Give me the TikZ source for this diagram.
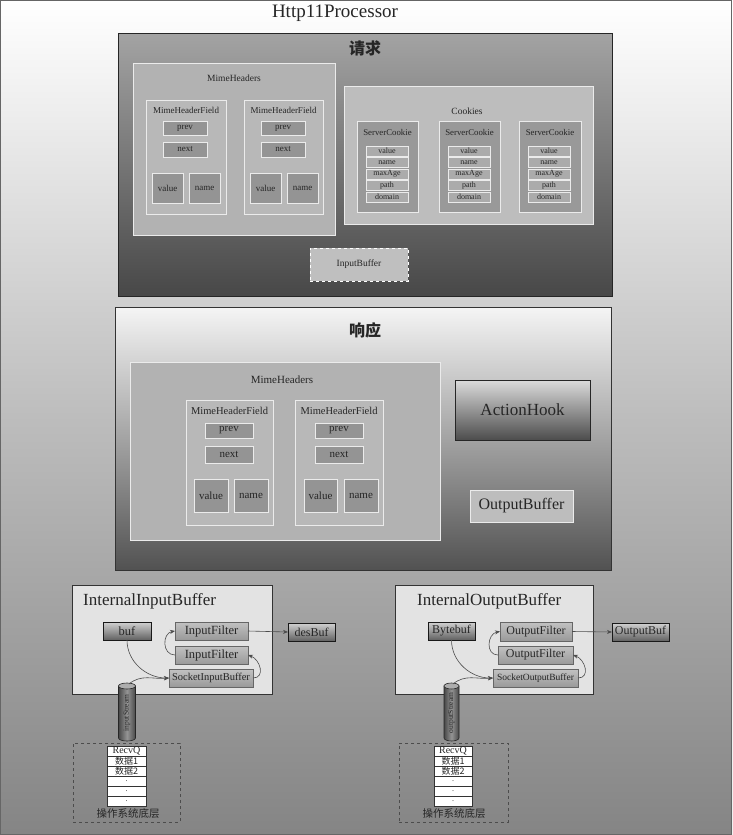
\documentclass[tikz,border=0pt]{standalone}
\usepackage{fontspec}
\setmainfont{Liberation Serif}
\newfontfamily\cjk{Noto Sans CJK SC}
\usetikzlibrary{shapes.geometric,arrows.meta}
\newcommand\fsz[1]{\fontsize{#1}{#1}\selectfont}
\newcommand\bx[7]{\node[#1,anchor=north west,minimum width={(#5-#3)*1pt},minimum height={(#6-#4)*1pt}] (#2) at (#3,#4) {#7};}
\begin{document}
\begin{tikzpicture}[x=1pt,y=-1pt,
  box/.style={rectangle,inner sep=0pt,outer sep=0pt,text=black!85},
  wbox/.style={box,draw=white!92!black,line width=0.9pt},
  reqouter/.style={box,draw=black!85,line width=0.8pt,top color=black!36,bottom color=black!72},
  respouter/.style={box,draw=black!80,line width=0.8pt,top color=black!4,bottom color=black!68},
  cont/.style={wbox,fill=black!30},
  mhf/.style={wbox,fill=black!28},
  fld/.style={wbox,fill=black!42},
  cookiebox/.style={wbox,fill=black!26},
  sc/.style={wbox,fill=black!40},
  cf/.style={wbox,line width=0.7pt,fill=black!33,font=\fsz{8}},
  ibufst/.style={box,draw=white,dashed,line width=0.9pt,fill=black!25},
  ahook/.style={box,draw=black!85,line width=0.8pt,top color=black!14,bottom color=black!70},
  obuf/.style={wbox,fill=black!26},
  ibox/.style={box,draw=black!80,line width=0.8pt,fill=black!11},
  gbuf/.style={box,draw=black!90,line width=0.7pt,top color=black!18,bottom color=black!62},
  filt/.style={box,draw=black!60,line width=0.7pt,top color=black!24,bottom color=black!40},
  srow/.style={box,draw=black!80,line width=0.6pt,fill=white},
  osbox/.style={box,draw=black!70,dashed,line width=0.6pt},
  arr/.style={-{Stealth[length=5pt,width=4pt]},draw=black!70,line width=0.6pt},
  cylbody/.style={left color=black!72,right color=black!72,middle color=black!42,draw=black!85,line width=0.6pt},
  cylend/.style={fill=black!32,draw=black!85,line width=0.6pt},
  cyltext/.style={rotate=90,font=\fsz{7.5},text=black!85,inner sep=0pt}
]
% background
\shade[top color=white,bottom color=black!48,middle color=black!26] (0,0) rectangle (732,835);
\draw[black!60,line width=0.8pt] (0.4,0.4) rectangle (731.6,834.6);
\node[font=\fsz{19},text=black!85] (title) at (335,13) {Http11Processor};

% ===== request =====
\bx{reqouter}{req}{118}{33}{612}{296}{}
\node[font=\cjk\bfseries\fsz{16},text=black!85] (reqt) at (365,48) {请求};
\bx{cont}{rmh}{133}{63}{335}{235}{}
\node[font=\fsz{9.5},text=black!85] (rmht) at (234,78) {MimeHeaders};
% field 1
\bx{mhf}{rf1}{146}{100}{226}{214}{}
\node[font=\fsz{9},text=black!85] (rf1t) at (186,110) {MimeHeaderField};
\bx{fld,font=\fsz{9}}{rf1p}{163}{121}{207}{135}{prev}
\bx{fld,font=\fsz{9}}{rf1n}{163}{142}{207}{157}{next}
\bx{fld,font=\fsz{9}}{rf1v}{152}{173}{183}{203}{value}
\bx{fld,font=\fsz{9}}{rf1m}{189}{173}{220}{203}{name}
% field 2
\bx{mhf}{rf2}{244}{100}{323}{214}{}
\node[font=\fsz{9},text=black!85] (rf2t) at (283.5,110) {MimeHeaderField};
\bx{fld,font=\fsz{9}}{rf2p}{261}{121}{305}{135}{prev}
\bx{fld,font=\fsz{9}}{rf2n}{261}{142}{305}{157}{next}
\bx{fld,font=\fsz{9}}{rf2v}{250}{173}{281}{203}{value}
\bx{fld,font=\fsz{9}}{rf2m}{287}{173}{318}{203}{name}
% cookies
\bx{cookiebox}{ck}{344}{86}{593}{224}{}
\node[font=\fsz{9.5},text=black!85] (ckt) at (467,111) {Cookies};
\bx{sc}{sc1}{357}{121}{418}{212}{}
\node[font=\fsz{8.8},text=black!85] (sc1t) at (387.5,132) {ServerCookie};
\bx{cf}{sc1a}{366}{146}{408}{156}{value}
\bx{cf}{sc1b}{366}{157.5}{408}{167.5}{name}
\bx{cf}{sc1c}{366}{169}{408}{179}{maxAge}
\bx{cf}{sc1d}{366}{180.5}{408}{190.5}{path}
\bx{cf}{sc1e}{366}{192}{408}{202}{domain}
\bx{sc}{sc2}{439}{121}{500}{212}{}
\node[font=\fsz{8.8},text=black!85] (sc2t) at (469.5,132) {ServerCookie};
\bx{cf}{sc2a}{448}{146}{490}{156}{value}
\bx{cf}{sc2b}{448}{157.5}{490}{167.5}{name}
\bx{cf}{sc2c}{448}{169}{490}{179}{maxAge}
\bx{cf}{sc2d}{448}{180.5}{490}{190.5}{path}
\bx{cf}{sc2e}{448}{192}{490}{202}{domain}
\bx{sc}{sc3}{519}{121}{581}{212}{}
\node[font=\fsz{8.8},text=black!85] (sc3t) at (550,132) {ServerCookie};
\bx{cf}{sc3a}{528}{146}{570}{156}{value}
\bx{cf}{sc3b}{528}{157.5}{570}{167.5}{name}
\bx{cf}{sc3c}{528}{169}{570}{179}{maxAge}
\bx{cf}{sc3d}{528}{180.5}{570}{190.5}{path}
\bx{cf}{sc3e}{528}{192}{570}{202}{domain}
\bx{ibufst,font=\fsz{9.5}}{ibuf}{310}{248}{408}{281}{InputBuffer}

% ===== response =====
\bx{respouter}{resp}{115}{307}{611}{570}{}
\node[font=\cjk\bfseries\fsz{16},text=black!85] (respt) at (365,330) {响应};
\bx{cont}{smh}{130}{362}{440}{540}{}
\node[font=\fsz{11},text=black!85] (smht) at (282,380) {MimeHeaders};
\bx{mhf}{sf1}{186}{400}{273}{525}{}
\node[font=\fsz{10.5},text=black!85] (sf1t) at (229.5,411) {MimeHeaderField};
\bx{fld,font=\fsz{11}}{sf1p}{205}{423}{253}{438}{prev}
\bx{fld,font=\fsz{11}}{sf1n}{205}{446}{253}{463}{next}
\bx{fld,font=\fsz{11}}{sf1v}{194}{479}{228}{512}{value}
\bx{fld,font=\fsz{11}}{sf1m}{234}{479}{268}{512}{name}
\bx{mhf}{sf2}{295}{400}{383}{525}{}
\node[font=\fsz{10.5},text=black!85] (sf2t) at (339,411) {MimeHeaderField};
\bx{fld,font=\fsz{11}}{sf2p}{315}{423}{363}{438}{prev}
\bx{fld,font=\fsz{11}}{sf2n}{315}{446}{363}{463}{next}
\bx{fld,font=\fsz{11}}{sf2v}{304}{479}{337}{512}{value}
\bx{fld,font=\fsz{11}}{sf2m}{344}{479}{378}{512}{name}
\bx{ahook,font=\fsz{17}}{ah}{455}{380}{590}{440}{ActionHook}
\bx{obuf,font=\fsz{16}}{ob}{470}{490}{573}{522}{OutputBuffer}

% ===== InternalInputBuffer =====
\bx{ibox}{iib}{72}{585}{272}{694}{}
\node[font=\fsz{17},text=black!85,anchor=west,inner sep=0pt] (iibt) at (83,601) {InternalInputBuffer};
\bx{gbuf,font=\fsz{12.5}}{buf}{103}{622}{151}{640}{buf}
\bx{filt,font=\fsz{12.5}}{if1}{175}{622}{248}{640}{InputFilter}
\bx{filt,font=\fsz{12.5}}{if2}{175}{646}{248}{664}{InputFilter}
\bx{filt,font=\fsz{10.5}}{sib}{169}{669}{253}{687}{SocketInputBuffer}
\bx{gbuf,font=\fsz{12}}{desbuf}{288}{623}{335}{641}{desBuf}
% cylinder (left)
\shade[cylbody] (118.5,686) -- (118.5,738) arc[start angle=180,end angle=0,x radius=8.5,y radius=3] -- (135.5,686) -- cycle;
\draw[cylend] (127,686) ellipse[x radius=8.5,y radius=3];
\node[cyltext] (cylLt) at (127,713) {inputStream};
\coordinate (cylLtop) at (129,684);
\bx{osbox}{osL}{73}{743}{180}{822}{}
\bx{srow,font=\fsz{10}}{rL0}{107}{746}{146}{756}{RecvQ}
\bx{srow,font=\cjk\fsz{9}}{rL1}{107}{756}{146}{766}{数据1}
\bx{srow,font=\cjk\fsz{9}}{rL2}{107}{766}{146}{776}{数据2}
\bx{srow,font=\fsz{8}}{rL3}{107}{776}{146}{786}{.}
\bx{srow,font=\fsz{8}}{rL4}{107}{786}{146}{796}{.}
\bx{srow,font=\fsz{8}}{rL5}{107}{796}{146}{806}{.}
\node[font=\cjk\fsz{10.5},text=black!85] (osLt) at (128,814) {操作系统底层};
\draw[arr] (if1.east) -- (desbuf.west);
\draw[arr] (buf.south) to[out=-90,in=180] (sib.west);
\draw[arr] (cylLtop) to[out=40,in=185] (sib.west);
\draw[arr] (sib.east) to[out=0,in=-20,looseness=1.4] (if2.east);
\draw[arr] (if2.west) to[out=180,in=190,looseness=1.4] (if1.west);

% ===== InternalOutputBuffer =====
\bx{ibox}{iob}{395}{585}{593}{694}{}
\node[font=\fsz{17},text=black!85,anchor=west,inner sep=0pt] (iobt) at (417,601) {InternalOutputBuffer};
\bx{gbuf,font=\fsz{12}}{bbuf}{428}{622}{475}{640}{Bytebuf}
\bx{filt,font=\fsz{12}}{of1}{500}{622}{572}{641}{OutputFilter}
\bx{filt,font=\fsz{12}}{of2}{498}{646}{573}{664}{OutputFilter}
\bx{filt,font=\fsz{9.5}}{sob}{493}{669}{578}{687}{SocketOutputBuffer}
\bx{gbuf,font=\fsz{12}}{outbuf}{612}{623}{669}{641}{OutputBuf}
% cylinder (right)
\shade[cylbody] (444,686) -- (444,738) arc[start angle=180,end angle=0,x radius=7.5,y radius=3] -- (459,686) -- cycle;
\draw[cylend] (451.5,686) ellipse[x radius=7.5,y radius=3];
\node[cyltext] (cylRt) at (451.5,713) {outputStream};
\coordinate (cylRtop) at (453,684);
\bx{osbox}{osR}{399}{743}{508}{822}{}
\bx{srow,font=\fsz{10}}{rR0}{434}{746}{472}{756}{RecvQ}
\bx{srow,font=\cjk\fsz{9}}{rR1}{434}{756}{472}{766}{数据1}
\bx{srow,font=\cjk\fsz{9}}{rR2}{434}{766}{472}{776}{数据2}
\bx{srow,font=\fsz{8}}{rR3}{434}{776}{472}{786}{.}
\bx{srow,font=\fsz{8}}{rR4}{434}{786}{472}{796}{.}
\bx{srow,font=\fsz{8}}{rR5}{434}{796}{472}{806}{.}
\node[font=\cjk\fsz{10.5},text=black!85] (osRt) at (454,814) {操作系统底层};
\draw[arr] (of1.east) -- (outbuf.west);
\draw[arr] (bbuf.south) to[out=-90,in=180] (sob.west);
\draw[arr] (cylRtop) to[out=40,in=185] (sob.west);
\draw[arr] (sob.east) to[out=0,in=-20,looseness=1.4] (of2.east);
\draw[arr] (of2.west) to[out=180,in=190,looseness=1.4] (of1.west);
\end{tikzpicture}
\end{document}
